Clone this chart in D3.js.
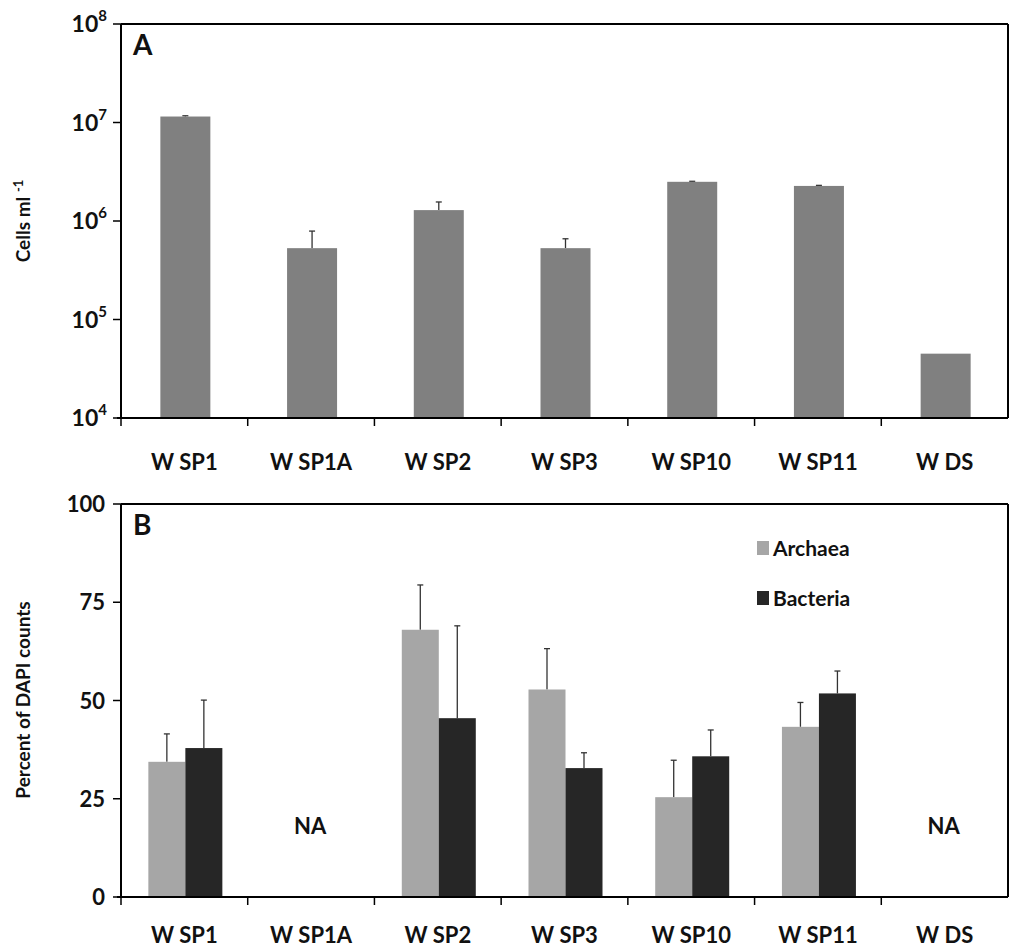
<!DOCTYPE html>
<html><head><meta charset="utf-8">
<script src="https://cdn.jsdelivr.net/npm/d3@7"></script>
<style>body{margin:0;background:#fff}text{font-family:Lato,"Open Sans",sans-serif;font-weight:bold;fill:#111}</style>
</head><body>
<svg id="chart" width="1011" height="952"></svg>
<script>
var sites = ['W SP1', 'W SP1A', 'W SP2', 'W SP3', 'W SP10', 'W SP11', 'W DS'];
var cells = [1.15e7, 5.3e5, 1.29e6, 5.3e5, 2.5e6, 2.27e6, 4.5e4];
var cellsErr = [1.17e7, 7.9e5, 1.56e6, 6.6e5, 2.53e6, 2.3e6, null];
var archaea = [34.4, null, 68, 52.8, 25.4, 43.3, null];
var archaeaErr = [41.5, null, 79.4, 63.2, 34.8, 49.5, null];
var bacteria = [37.9, null, 45.5, 32.8, 35.8, 51.8, null];
var bacteriaErr = [50.1, null, 69, 36.7, 42.5, 57.5, null];
var logTicks = [1e4, 1e5, 1e6, 1e7, 1e8];
var pctTicks = [0, 25, 50, 75, 100];

var svg = d3.select('#chart');
var left = 121, right = 1008;
var x = d3.scaleBand().domain(sites).range([left, right]);

function frame(g, y0, y1, letter, labelDy) {
  g.append('line').attr('x1', left).attr('x2', right).attr('y1', y0).attr('y2', y0).attr('stroke', '#000').attr('stroke-width', 2);
  g.append('line').attr('x1', right).attr('x2', right).attr('y1', y0).attr('y2', y1).attr('stroke', '#000').attr('stroke-width', 2);
  g.append('line').attr('x1', left).attr('x2', left).attr('y1', y0).attr('y2', y1).attr('stroke', '#000').attr('stroke-width', 2);
  g.append('line').attr('x1', left - 4).attr('x2', right).attr('y1', y1).attr('y2', y1).attr('stroke', '#000').attr('stroke-width', 2);
  sites.forEach(function(s, i) {
    var xx = x(s);
    g.append('line').attr('x1', xx).attr('x2', xx).attr('y1', y1).attr('y2', y1 + 8).attr('stroke', '#000').attr('stroke-width', 1.5);
    g.append('text').attr('x', xx + x.bandwidth() / 2).attr('y', y1 + labelDy).attr('text-anchor', 'middle').attr('font-size', 22).text(s);
  });
  g.append('text').attr('x', left + 12).attr('y', y0 + 31).attr('font-size', 28).text(letter);
}

// Panel A
var gA = svg.append('g');
var yA = d3.scaleLog().domain([1e4, 1e8]).range([418, 24]);
frame(gA, 24, 418, 'A', 52);
var yt = gA.append('text').attr('transform', 'translate(30,221) rotate(-90)').attr('text-anchor', 'middle').attr('font-size', 19);
yt.append('tspan').text('Cells ml ');
yt.append('tspan').attr('font-size', 13).attr('dy', -7).text('-1');
logTicks.forEach(function(t) {
  gA.append('line').attr('x1', left - 8).attr('x2', left).attr('y1', yA(t)).attr('y2', yA(t)).attr('stroke', '#000').attr('stroke-width', 1.5);
  var tx = gA.append('text').attr('x', left - 14).attr('y', yA(t) + 8).attr('text-anchor', 'end').attr('font-size', 23);
  tx.append('tspan').text('10');
  tx.append('tspan').attr('font-size', 15).attr('dy', -11).text(Math.round(Math.log10(t)));
});
var bwA = 50;
sites.forEach(function(s, i) {
  var cx = x(s) + x.bandwidth() / 2 + 1;
  if (cellsErr[i]) {
    gA.append('line').attr('x1', cx).attr('x2', cx).attr('y1', yA(cells[i])).attr('y2', yA(cellsErr[i])).attr('stroke', '#333').attr('stroke-width', 1.3);
    gA.append('line').attr('x1', cx - 3).attr('x2', cx + 3).attr('y1', yA(cellsErr[i])).attr('y2', yA(cellsErr[i])).attr('stroke', '#333').attr('stroke-width', 1.3);
  }
  gA.append('rect').attr('x', cx - bwA / 2).attr('y', yA(cells[i])).attr('width', bwA).attr('height', yA(1e4) - yA(cells[i]) - 1).attr('fill', '#808080');
});

// Panel B
var gB = svg.append('g');
var yB = d3.scaleLinear().domain([0, 100]).range([897, 504]);
frame(gB, 504, 897, 'B', 46);
gB.append('text').attr('transform', 'translate(30,700) rotate(-90)').attr('text-anchor', 'middle').attr('font-size', 19).text('Percent of DAPI counts');
pctTicks.forEach(function(t) {
  gB.append('line').attr('x1', left - 8).attr('x2', left).attr('y1', yB(t)).attr('y2', yB(t)).attr('stroke', '#000').attr('stroke-width', 1.5);
  gB.append('text').attr('x', left - 16).attr('y', yB(t) + 8).attr('text-anchor', 'end').attr('font-size', 22).text(t);
});
var bwB = 37;
function errBar(cx, v, e) {
  gB.append('line').attr('x1', cx).attr('x2', cx).attr('y1', yB(v)).attr('y2', yB(e)).attr('stroke', '#333').attr('stroke-width', 1.3);
  gB.append('line').attr('x1', cx - 3).attr('x2', cx + 3).attr('y1', yB(e)).attr('y2', yB(e)).attr('stroke', '#333').attr('stroke-width', 1.3);
}
sites.forEach(function(s, i) {
  var cx = x(s) + x.bandwidth() / 2 + 1;
  if (archaea[i] == null) {
    gB.append('text').attr('x', cx - 2).attr('y', yB(18) + 8).attr('text-anchor', 'middle').attr('font-size', 22).text('NA');
    return;
  }
  errBar(cx - bwB / 2, archaea[i], archaeaErr[i]);
  errBar(cx + bwB / 2, bacteria[i], bacteriaErr[i]);
  gB.append('rect').attr('x', cx - bwB).attr('y', yB(archaea[i])).attr('width', bwB).attr('height', yB(0) - yB(archaea[i]) - 1).attr('fill', '#a6a6a6');
  gB.append('rect').attr('x', cx).attr('y', yB(bacteria[i])).attr('width', bwB).attr('height', yB(0) - yB(bacteria[i]) - 1).attr('fill', '#262626');
});
[['Archaea', '#a6a6a6', 548], ['Bacteria', '#262626', 598]].forEach(function(l) {
  gB.append('rect').attr('x', 757).attr('y', l[2] - 7).attr('width', 12).attr('height', 14).attr('fill', l[1]);
  gB.append('text').attr('x', 773).attr('y', l[2] + 8).attr('font-size', 21).text(l[0]);
});
</script>
</body></html>
